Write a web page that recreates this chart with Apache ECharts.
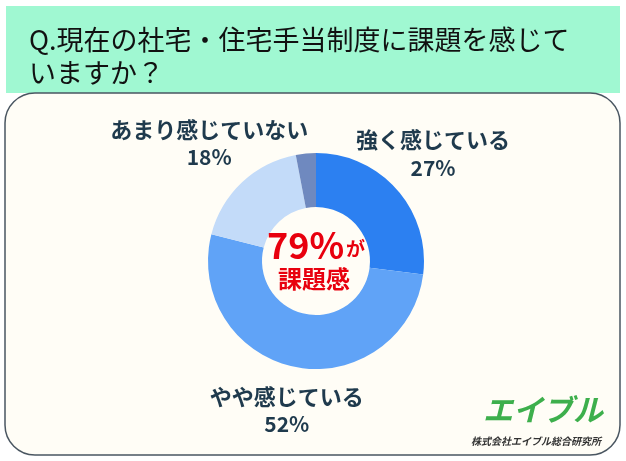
<!DOCTYPE html>
<html>
<head>
<meta charset="utf-8">
<script src="https://cdn.jsdelivr.net/npm/echarts@6/dist/echarts.min.js"></script>
<style>
  html, body { margin: 0; padding: 0; background: #fff; }
  #chart { width: 626px; height: 461px; }
</style>
</head>
<body>
<div id="chart"></div>
<script>
  // 回答データ
  const answers = ['強く感じている', 'やや感じている', 'あまり感じていない', '全く感じていない'];
  const shares = [27, 52, 18, 3];
  const sliceColors = ['#2c80f1', '#60a3f7', '#c3dbf9', '#6f89bf'];
  const hiddenLabels = ['全く感じていない'];

  const cx = 316, cy = 261, rOut = 108, rIn = 54, rLabel = 156;

  // ラベル位置はスライスの中央角から求める
  const total = shares.reduce((a, b) => a + b, 0);
  const midAngles = [];
  let acc = 0;
  for (let i = 0; i < shares.length; i++) {
    const start = 90 - acc / total * 360;
    acc += shares[i];
    const end = 90 - acc / total * 360;
    midAngles.push((start + end) / 2 * Math.PI / 180);
  }

  const dataList = answers.map((name, i) => ({
    name: name,
    value: shares[i],
    itemStyle: { color: sliceColors[i] },
    label: { show: hiddenLabels.indexOf(name) < 0 }
  }));

  const myChart = echarts.init(document.getElementById('chart'));
  const option = {
    backgroundColor: '#fff',
    animation: false,
    title: {
      text: 'Q.現在の社宅・住宅手当制度に課題を感じて\nいますか？',
      left: 24,
      top: 18,
      textStyle: {
        fontFamily: 'Noto Sans CJK JP',
        fontSize: 27,
        fontWeight: 'normal',
        lineHeight: 33,
        color: '#111'
      }
    },
    graphic: [
      {
        type: 'rect', z: -10,
        shape: { x: 6, y: 6, width: 614, height: 87 },
        style: { fill: '#a0f8d2' }
      },
      {
        type: 'rect', z: -9,
        shape: { x: 5, y: 93, width: 615, height: 362, r: [30, 30, 30, 30] },
        style: { fill: '#fffdf6', stroke: '#4a5661', lineWidth: 1.5 }
      },
      {
        type: 'text', z: 10,
        style: {
          x: cx, y: 245,
          text: '{big|79%}{small|が}',
          align: 'center', verticalAlign: 'middle',
          rich: {
            big: { fontFamily: 'Noto Sans CJK JP', fontSize: 36, fontWeight: 'bold', fill: '#e8000e' },
            small: { fontFamily: 'Noto Sans CJK JP', fontSize: 19, fontWeight: 'bold', fill: '#e8000e', padding: [8, 0, 0, 2] }
          }
        }
      },
      {
        type: 'text', z: 10,
        style: {
          x: cx - 2, y: 279,
          text: '課題感',
          align: 'center', verticalAlign: 'middle',
          font: 'bold 24px "Noto Sans CJK JP"',
          fill: '#e8000e'
        }
      },
      {
        type: 'text',
        style: {
          x: 543, y: 410,
          text: 'エイブル',
          align: 'center', verticalAlign: 'middle',
          font: 'italic bold 30px "Noto Sans CJK JP"',
          fill: '#3daf4c'
        }
      },
      {
        type: 'text',
        style: {
          x: 536, y: 441,
          text: '株式会社エイブル総合研究所',
          align: 'center', verticalAlign: 'middle',
          font: 'italic bold 10px "Noto Sans CJK JP"',
          fill: '#333'
        }
      }
    ],
    series: [
      {
        type: 'pie',
        center: [cx, cy],
        radius: [rIn, rOut],
        startAngle: 90,
        clockwise: true,
        silent: true,
        label: {
          show: true,
          position: 'outside',
          overflow: 'none',
          edgeDistance: 0,
          formatter: '{n|{b}}\n{v|{c}%}',
          rich: {
            n: { fontFamily: 'Noto Sans CJK JP', fontSize: 22, fontWeight: 'bold', color: '#1f3a4d', lineHeight: 28 },
            v: { fontFamily: 'Noto Sans CJK JP', fontSize: 21, fontWeight: 'bold', color: '#1f3a4d', lineHeight: 28 }
          }
        },
        labelLine: { show: false },
        labelLayout: function (p) {
          const a = midAngles[p.dataIndex];
          return {
            x: cx + rLabel * Math.cos(a),
            y: cy - rLabel * Math.sin(a) - 4,
            align: 'center',
            verticalAlign: 'middle'
          };
        },
        data: dataList
      }
    ]
  };
  myChart.setOption(option);
</script>
</body>
</html>
